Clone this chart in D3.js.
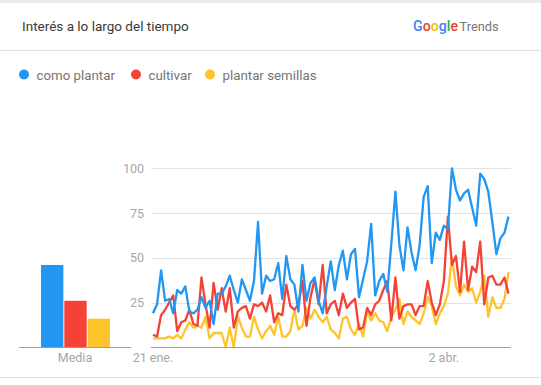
<!DOCTYPE html>
<meta charset="utf-8">
<style>
    body {
        margin:0;
        background:#fff;
        font-family:Roboto, 'Noto Sans', sans-serif;
    }
</style>
<body>
<script src="https://d3js.org/d3.v7.min.js"></script>
<script>
var width = 541, height = 385;

// terms and their colours
var terms = ["como plantar", "cultivar", "plantar semillas"];
var colors = ["#2196f3", "#f44336", "#ffc42a"];

// daily interest, 21 ene. .. 18 abr. 2020
var startDate = new Date(2020, 0, 21);
var comoPlantar = [19,24,43,26,27,19,32,30,34,20,19,21,28,22,26,13,30,30,34,40,
    32,25,38,32,26,37,70,30,40,37,38,47,27,51,38,35,20,46,26,36,
    39,26,19,34,48,32,46,54,38,52,55,28,38,48,69,29,37,41,31,58,
    87,57,43,67,53,43,57,84,90,47,64,60,68,66,100,88,82,86,88,78,
    68,97,94,87,70,52,61,64,73];
var cultivar = [7,6,18,21,25,29,9,14,15,21,13,12,39,24,11,36,21,33,20,33,
    11,20,22,23,16,24,23,25,20,29,14,19,18,35,23,21,24,37,12,28,
    38,24,46,19,24,26,18,30,22,25,27,10,11,22,18,24,26,32,37,15,
    39,16,23,24,24,18,23,23,37,25,18,24,37,73,46,51,31,59,32,45,
    42,59,24,39,40,35,35,39,30];
var plantarSemillas = [5,5,5,5,6,5,7,5,10,14,11,12,11,17,5,8,8,8,0,11,
    0,17,11,6,6,17,10,5,9,12,7,17,6,6,9,21,10,12,22,16,
    21,17,14,17,10,8,5,16,17,10,7,13,6,20,15,19,15,14,9,17,
    21,27,13,20,17,15,13,19,28,23,13,19,23,30,50,34,29,35,31,33,
    25,31,40,17,28,22,22,27,42];

// averages shown on the left
var averages = [46, 26, 16];

var yTicks = [25, 50, 75, 100];
var xTickDates = [new Date(2020, 0, 21), new Date(2020, 3, 2)];
var xTickLabels = ["21 ene.", "2 abr."];

var series = [comoPlantar, cultivar, plantarSemillas];

var svg = d3.select("body").append("svg")
    .attr("width", width)
    .attr("height", height);

// card frame
svg.append("rect").attr("x", 0).attr("y", 0).attr("width", width).attr("height", 3).attr("fill", "#ececec");
svg.append("line").attr("x1", 0).attr("x2", width).attr("y1", 50.5).attr("y2", 50.5).attr("stroke", "#e0e0e0");
svg.append("line").attr("x1", 0).attr("x2", width).attr("y1", 377.5).attr("y2", 377.5).attr("stroke", "#e0e0e0");

svg.append("text")
    .attr("x", 22).attr("y", 30.5)
    .attr("fill", "#3a3a3a")
    .style("font-size", "13.5px")
    .text("Interés a lo largo del tiempo");

// logo
var logo = svg.append("text").attr("x", 413).attr("y", 30.5);
var googleLetters = [["G", "#4285f4"], ["o", "#ea4335"], ["o", "#fbbc05"], ["g", "#4285f4"], ["l", "#34a853"], ["e", "#ea4335"]];
googleLetters.forEach(function(l) {
    logo.append("tspan").attr("fill", l[1]).style("font-size", "14.2px").style("font-weight", 500).text(l[0]);
});
logo.append("tspan").attr("dx", 1.5).attr("fill", "#757575").style("font-size", "12.8px").text("Trends");

// legend
var legendX = [24, 136, 210];
var legend = svg.selectAll(".legend").data(terms).enter().append("g")
    .attr("transform", function(d, i) { return "translate(" + legendX[i] + ",74.5)"; });
legend.append("circle").attr("r", 5).attr("fill", function(d, i) { return colors[i]; });
legend.append("text")
    .attr("x", 12.5).attr("y", 5)
    .attr("fill", "#757575")
    .style("font-size", "13.3px")
    .text(function(d) { return d; });

// scales
var y = d3.scaleLinear().domain([0, 100]).range([347.3, 168.3]);
var x = d3.scaleTime()
    .domain([startDate, d3.timeDay.offset(startDate, comoPlantar.length - 1)])
    .range([153, 508.5]);

// grid
svg.append("g").selectAll("line").data(yTicks).enter().append("line")
    .attr("x1", 151).attr("x2", 511)
    .attr("y1", function(d) { return Math.round(y(d)) + 0.5; })
    .attr("y2", function(d) { return Math.round(y(d)) + 0.5; })
    .attr("stroke", "#e3e3e3");

svg.append("g").selectAll("text").data(yTicks).enter().append("text")
    .attr("x", 144).attr("y", function(d) { return y(d); })
    .attr("dy", "0.36em")
    .attr("text-anchor", "end")
    .attr("fill", "#a6a6a6")
    .style("font-size", "12.5px")
    .text(function(d) { return d; });

// lines
var line = d3.line()
    .x(function(d, i) { return x(d3.timeDay.offset(startDate, i)); })
    .y(function(d) { return y(d); });

svg.append("g").selectAll("path").data(series.slice().reverse()).enter().append("path")
    .attr("d", line)
    .attr("fill", "none")
    .attr("stroke", function(d, i) { return colors[2 - i]; })
    .attr("stroke-width", 2.3)
    .attr("stroke-linejoin", "round");

// x axis
svg.append("line").attr("x1", 151).attr("x2", 511).attr("y1", 347.5).attr("y2", 347.5).attr("stroke", "#9e9e9e");
svg.append("g").selectAll("text").data(xTickDates).enter().append("text")
    .attr("x", function(d) { return x(d); })
    .attr("y", 361.5)
    .attr("text-anchor", "middle")
    .attr("fill", "#a6a6a6")
    .style("font-size", "12.5px")
    .text(function(d, i) { return xTickLabels[i]; });

// averages
var xb = d3.scaleBand().domain(terms).range([41, 110]).paddingInner(0.04);
svg.append("g").selectAll("rect").data(averages).enter().append("rect")
    .attr("x", function(d, i) { return xb(terms[i]); })
    .attr("width", xb.bandwidth())
    .attr("y", function(d) { return y(d); })
    .attr("height", function(d) { return y(0) - y(d); })
    .attr("fill", function(d, i) { return colors[i]; });
svg.append("line").attr("x1", 19).attr("x2", 131).attr("y1", 347.5).attr("y2", 347.5).attr("stroke", "#9e9e9e");
svg.append("text")
    .attr("x", 75).attr("y", 361.5)
    .attr("text-anchor", "middle")
    .attr("fill", "#a6a6a6")
    .style("font-size", "12.5px")
    .text("Media");
</script>
</body>
